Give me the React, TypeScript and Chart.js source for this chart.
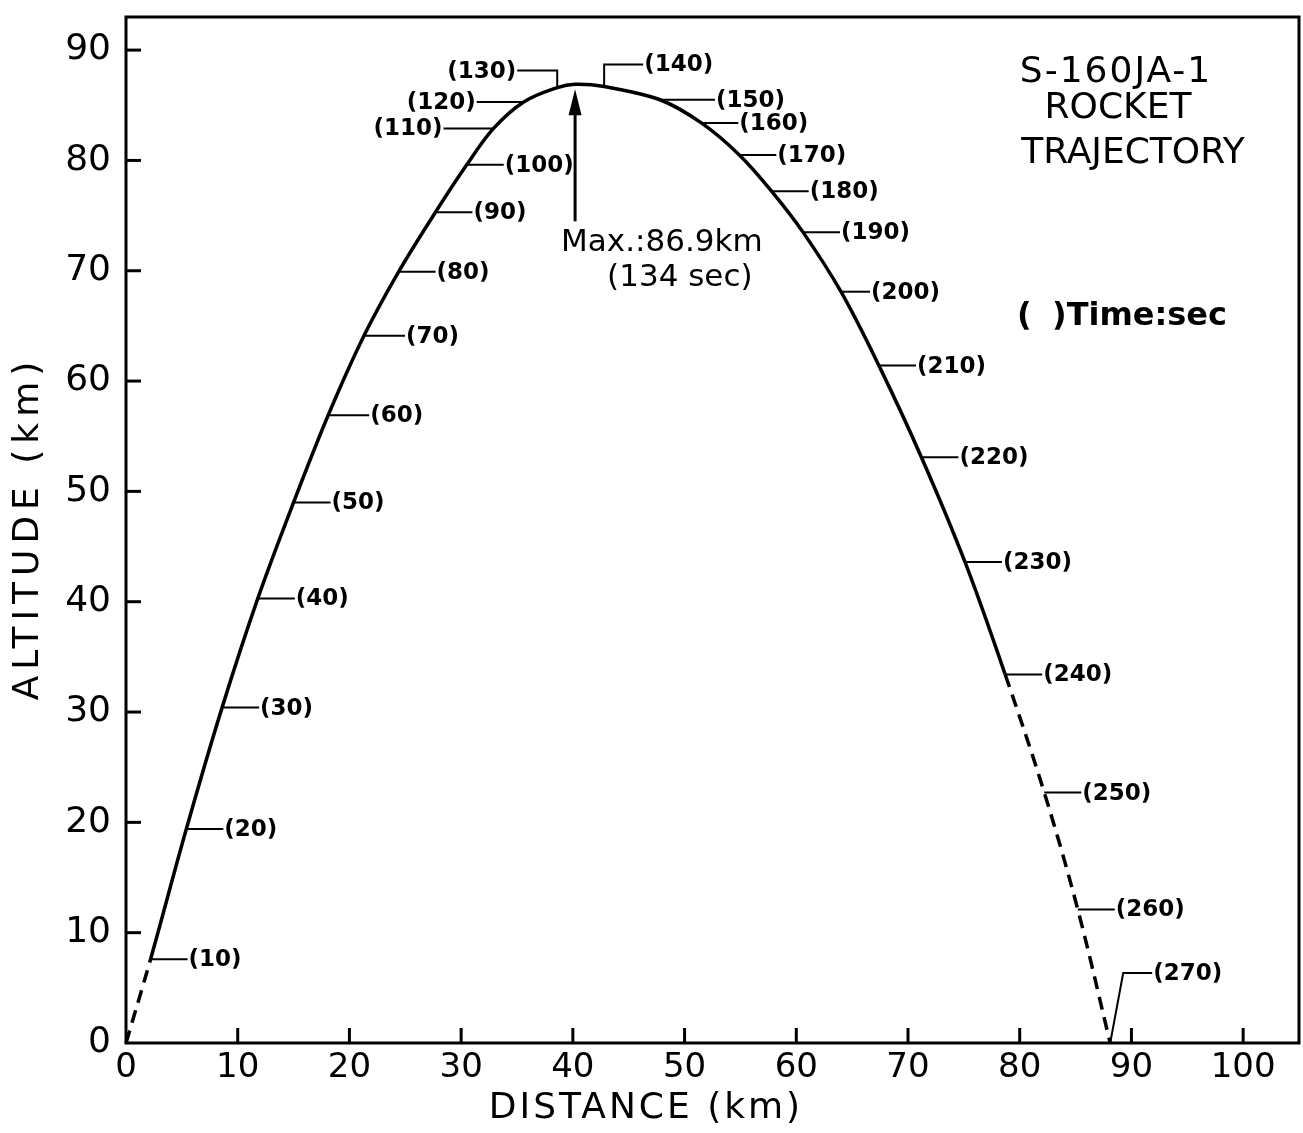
import React, { useEffect, useRef } from "react";
import { Chart, registerables } from "chart.js";

Chart.register(...registerables);

// ---- data ----
const timeSec = [0, 10, 20, 30, 40, 50, 60, 70, 80, 90, 100, 110, 120, 130, 134, 140, 150, 160, 170, 180, 190, 200, 210, 220, 230, 240, 250, 260, 270];
const distanceKm = [0, 2.2, 5.4, 8.6, 11.8, 15.0, 18.1, 21.3, 24.4, 27.7, 30.5, 32.9, 35.6, 38.6, 40.2, 42.8, 47.8, 51.5, 54.9, 57.8, 60.6, 64.0, 67.4, 71.2, 75.1, 78.7, 82.2, 85.2, 88.1];
const altitudeKm = [0, 7.6, 19.4, 30.4, 40.3, 49.0, 56.9, 64.1, 69.9, 75.3, 79.6, 82.9, 85.3, 86.6, 86.9, 86.7, 85.5, 83.4, 80.5, 77.2, 73.5, 68.1, 61.4, 53.1, 43.6, 33.4, 22.7, 12.1, 0];
const labeledTimes = [10, 20, 30, 40, 50, 60, 70, 80, 90, 100, 110, 120, 130, 140, 150, 160, 170, 180, 190, 200, 210, 220, 230, 240, 250, 260, 270];
const solidFromSec = 10;
const solidToSec = 240;
const maxAltitudeKm = 86.9;
const maxTimeSec = 134;

const xTicks = [0, 10, 20, 30, 40, 50, 60, 70, 80, 90, 100];
const yTicks = [0, 10, 20, 30, 40, 50, 60, 70, 80, 90];
const xMax = 105;
const yMax = 93;

const titleLines = ["S-160JA-1", "ROCKET", "TRAJECTORY"];
const legendOpen = "(";
const legendText = ")Time:sec";
const xTitle = "DISTANCE (km)";
const yTitle = "ALTITUDE (km)";

// ---- styles ----
const FONT = '"DejaVu Sans", "Liberation Sans", sans-serif';
const INK = "#000";
const DASH = [13, 8];

type Leader = { side: "left" | "right"; len: number; up?: number; elbowDx?: number };
const defaultLeader: Leader = { side: "right", len: 37 };
const leaderStyle: Record<number, Leader> = {
  60: { side: "right", len: 41 },
  70: { side: "right", len: 41 },
  110: { side: "left", len: 50 },
  120: { side: "left", len: 47 },
  130: { side: "left", len: 40, up: 17 },
  140: { side: "right", len: 39, up: 22 },
  150: { side: "right", len: 55 },
  200: { side: "right", len: 29 },
  270: { side: "right", len: 29, up: 70, elbowDx: 13 },
};

const overlayPlugin = {
  id: "overlay",
  afterDraw(chart: any) {
    const ctx = chart.ctx as CanvasRenderingContext2D;
    const { left, right, top, bottom } = chart.chartArea;
    const xs = chart.scales.x;
    const ys = chart.scales.y;
    ctx.save();
    ctx.strokeStyle = INK;
    ctx.fillStyle = INK;
    ctx.lineCap = "butt";

    // frame
    ctx.lineWidth = 3;
    ctx.beginPath();
    ctx.moveTo(left, top);
    ctx.lineTo(right, top);
    ctx.lineTo(right, bottom);
    ctx.lineTo(left, bottom);
    ctx.closePath();
    ctx.stroke();

    // inward ticks
    xs.ticks.forEach((t: any) => {
      if (t.value === 0) return;
      const px = xs.getPixelForValue(t.value);
      ctx.beginPath();
      ctx.moveTo(px, bottom);
      ctx.lineTo(px, bottom - 15);
      ctx.stroke();
    });
    ys.ticks.forEach((t: any) => {
      if (t.value === 0) return;
      const py = ys.getPixelForValue(t.value);
      ctx.beginPath();
      ctx.moveTo(left, py);
      ctx.lineTo(left + 15, py);
      ctx.stroke();
    });

    // time leaders and labels
    const meta = chart.getDatasetMeta(0);
    ctx.lineWidth = 2;
    ctx.font = `bold 23px ${FONT}`;
    ctx.textBaseline = "middle";
    labeledTimes.forEach((t) => {
      const i = timeSec.indexOf(t);
      if (i < 0) return;
      const pt = meta.data[i];
      const st = leaderStyle[t] || defaultLeader;
      let x = pt.x;
      let y = pt.y;
      ctx.beginPath();
      ctx.moveTo(x, y);
      if (st.up) {
        x = x + (st.elbowDx || 0);
        y = y - st.up;
        ctx.lineTo(x, y);
      }
      const ex = st.side === "right" ? x + st.len : x - st.len;
      ctx.lineTo(ex, y);
      ctx.stroke();
      ctx.textAlign = st.side === "right" ? "left" : "right";
      ctx.fillText(`(${t})`, ex + (st.side === "right" ? 1 : -1), y + 1);
    });

    // max arrow
    const pk = timeSec.indexOf(maxTimeSec);
    const ax = xs.getPixelForValue(distanceKm[pk]);
    const tipY = ys.getPixelForValue(maxAltitudeKm) + 5;
    const baseY = tipY + 132;
    ctx.lineWidth = 3;
    ctx.beginPath();
    ctx.moveTo(ax, baseY);
    ctx.lineTo(ax, tipY + 20);
    ctx.stroke();
    ctx.beginPath();
    ctx.moveTo(ax, tipY);
    ctx.lineTo(ax - 6.5, tipY + 26);
    ctx.lineTo(ax + 6.5, tipY + 26);
    ctx.closePath();
    ctx.fill();

    ctx.font = `31px ${FONT}`;
    ctx.textAlign = "left";
    ctx.textBaseline = "middle";
    ctx.fillText(`Max.:${maxAltitudeKm}km`, ax - 14, baseY + 22);
    ctx.fillText(`(${maxTimeSec} sec)`, ax + 32, baseY + 57);

    // title block
    ctx.font = `36px ${FONT}`;
    ctx.textAlign = "center";
    (ctx as any).letterSpacing = "2px";
    ctx.fillText(titleLines[0], 1116, 73);
    (ctx as any).letterSpacing = "0px";
    ctx.fillText(titleLines[1], 1118, 109);
    ctx.fillText(titleLines[2], 1133, 154);

    // legend
    ctx.font = `bold 32px ${FONT}`;
    ctx.textAlign = "left";
    ctx.fillText(legendOpen, 1017, 317);
    ctx.fillText(legendText, 1052, 317);

    // axis titles
    ctx.font = `36px ${FONT}`;
    ctx.textAlign = "center";
    (ctx as any).letterSpacing = "3px";
    ctx.fillText(xTitle, 646, 1109);
    ctx.save();
    ctx.translate(29, 528);
    ctx.rotate(-Math.PI / 2);
    (ctx as any).letterSpacing = "6px";
    ctx.fillText(yTitle, 0, 0);
    ctx.restore();
    (ctx as any).letterSpacing = "0px";

    ctx.restore();
  },
};

export default function App() {
  const ref = useRef<HTMLCanvasElement | null>(null);
  useEffect(() => {
    if (!ref.current) return;
    const i10 = timeSec.indexOf(solidFromSec);
    const i240 = timeSec.indexOf(solidToSec);
    const points = distanceKm.map((d, i) => ({ x: d, y: altitudeKm[i] }));
    const chart = new Chart(ref.current, {
      type: "scatter",
      data: {
        datasets: [
          {
            label: "S-160JA-1 trajectory",
            data: points,
            showLine: true,
            borderColor: INK,
            borderWidth: 3.5,
            pointRadius: 0,
            tension: 0.35,
            clip: false as any,
            segment: {
              borderDash: (c: any) => (c.p0DataIndex < i10 || c.p0DataIndex >= i240 ? DASH : undefined),
            },
          } as any,
        ],
      },
      options: {
        animation: false,
        responsive: false,
        devicePixelRatio: 1,
        layout: { padding: { top: 17, right: 4, bottom: 0, left: 0 } },
        plugins: { legend: { display: false }, tooltip: { enabled: false } },
        scales: {
          x: {
            type: "linear",
            min: 0,
            max: xMax,
            afterFit: (s: any) => {
              s.height = 90;
              s.paddingLeft = 0;
              s.paddingRight = 0;
            },
            afterBuildTicks: (s: any) => {
              s.ticks = xTicks.map((v) => ({ value: v }));
            },
            grid: { display: false, drawTicks: false },
            border: { display: false },
            ticks: { color: INK, font: { family: FONT, size: 34 }, padding: 5, maxRotation: 0, autoSkip: false },
          },
          y: {
            type: "linear",
            min: 0,
            max: yMax,
            afterFit: (s: any) => {
              s.width = 126;
              s.paddingTop = 0;
              s.paddingBottom = 0;
            },
            afterBuildTicks: (s: any) => {
              s.ticks = yTicks.map((v) => ({ value: v }));
            },
            grid: { display: false, drawTicks: false },
            border: { display: false },
            ticks: { color: INK, font: { family: FONT, size: 36 }, padding: 15, autoSkip: false },
          },
        },
      },
      plugins: [overlayPlugin],
    });
    return () => chart.destroy();
  }, []);
  return (
    <div style={{ position: "absolute", left: 0, top: 0, width: 1303, height: 1133, background: "#fff" }}>
      <canvas ref={ref} width={1303} height={1133} style={{ display: "block" }} />
    </div>
  );
}
